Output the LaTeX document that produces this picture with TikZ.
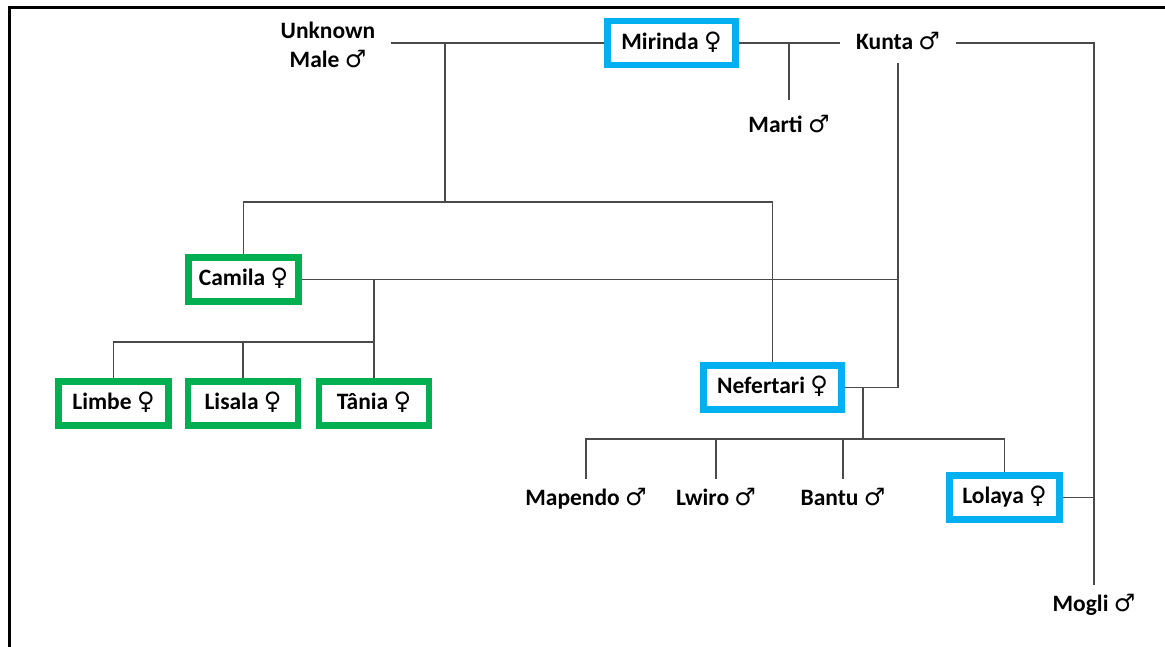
\documentclass[tikz,border=0pt]{standalone}
\usepackage{fontspec}
\setmainfont{Carlito}
\newfontfamily\symfont{DejaVu Sans}
\newcommand{\fem}{{\symfont\fontsize{24}{24}\selectfont ♀}}
\newcommand{\mal}{{\symfont\fontsize{24}{24}\selectfont ♂}}
\definecolor{boxblue}{HTML}{00B0F0}
\definecolor{boxgreen}{HTML}{00B050}
\definecolor{linegray}{HTML}{4A4A4A}
\tikzset{
  person/.style={font=\fontsize{23.5}{29}\selectfont\bfseries, inner xsep=16pt, inner ysep=9pt, text height=17pt, text depth=5pt},
  bluebox/.style={draw=boxblue, line width=6.5pt, inner sep=0pt, font=\fontsize{23.5}{29}\selectfont\bfseries, minimum height=44pt, text height=17pt, text depth=5pt},
  greenbox/.style={bluebox, draw=boxgreen},
  link/.style={draw=linegray, line width=1.3pt},
  frame/.style={draw=black, line width=3pt}
}
\begin{document}
\begin{tikzpicture}[x=1pt,y=-1pt]
\useasboundingbox (0,0) rectangle (1165,646);
\draw[frame] (9.5,650) -- (9.5,7.5) -- (1170,7.5);

% top generation
\node[person, align=center, inner ysep=3pt, text height=, text depth=] (unk) at (328,45) {Unknown\\Male \mal};
\node[bluebox, minimum width=128pt] (mirinda) at (671.5,43) {Mirinda \fem};
\node[person] (kunta) at (898,43) {Kunta \mal};
\node[person, inner ysep=15pt] (marti) at (789,126) {Marti \mal};
\node[person] (mogli) at (1094,605) {Mogli \mal};

% second generation
\node[greenbox, minimum width=110pt] (camila) at (243.5,279.5) {Camila \fem};
\node[bluebox, minimum width=138pt] (nefertari) at (772.5,387.5) {Nefertari \fem};

% third generation
\node[greenbox, minimum width=110pt] (limbe) at (113.5,403.5) {Limbe \fem};
\node[greenbox, minimum width=110pt] (lisala) at (243,403.5) {Lisala \fem};
\node[greenbox, minimum width=110pt] (tania) at (374,403.5) {Tânia \fem};

\node[person] (mapendo) at (586,499) {Mapendo \mal};
\node[person] (lwiro) at (716,499) {Lwiro \mal};
\node[person] (bantu) at (843,499) {Bantu \mal};
\node[bluebox, minimum width=110pt] (lolaya) at (1004.5,497.5) {Lolaya \fem};

% junction coordinates
\coordinate (um) at (445,43);
\coordinate (umc) at (445,202);
\coordinate (ckc) at (374,342);
\coordinate (nk) at (863,387.5);
\coordinate (nkc) at (863,439);

% couples
\draw[link] (unk.east |- mirinda.west) -- (mirinda.west);
\draw[link] (mirinda.east) -- (kunta.west);
\draw[link] (marti.north) -- (marti.north |- mirinda.east);
\draw[link] (kunta.east) -| (mogli.north);
\draw[link] (camila.east) -- (camila.east -| kunta.south);
\draw[link] (kunta.south) |- (nefertari.east);
\draw[link] (lolaya.east) -- (lolaya.east -| mogli.north);

% children of Unknown Male and Mirinda
\draw[link] (um) -- (umc);
\draw[link] (camila.north) |- (umc) -| (nefertari.north);

% children of Camila and Kunta
\draw[link] (tania.north) -- (tania.north |- camila.east);
\draw[link] (limbe.north) |- (ckc);
\draw[link] (lisala.north) -- (lisala.north |- ckc);

% children of Nefertari and Kunta
\draw[link] (nk) -- (nkc);
\draw[link] (mapendo.north) |- (nkc) -| (lolaya.north);
\draw[link] (lwiro.north) -- (lwiro.north |- nkc);
\draw[link] (bantu.north) -- (bantu.north |- nkc);
\end{tikzpicture}
\end{document}
